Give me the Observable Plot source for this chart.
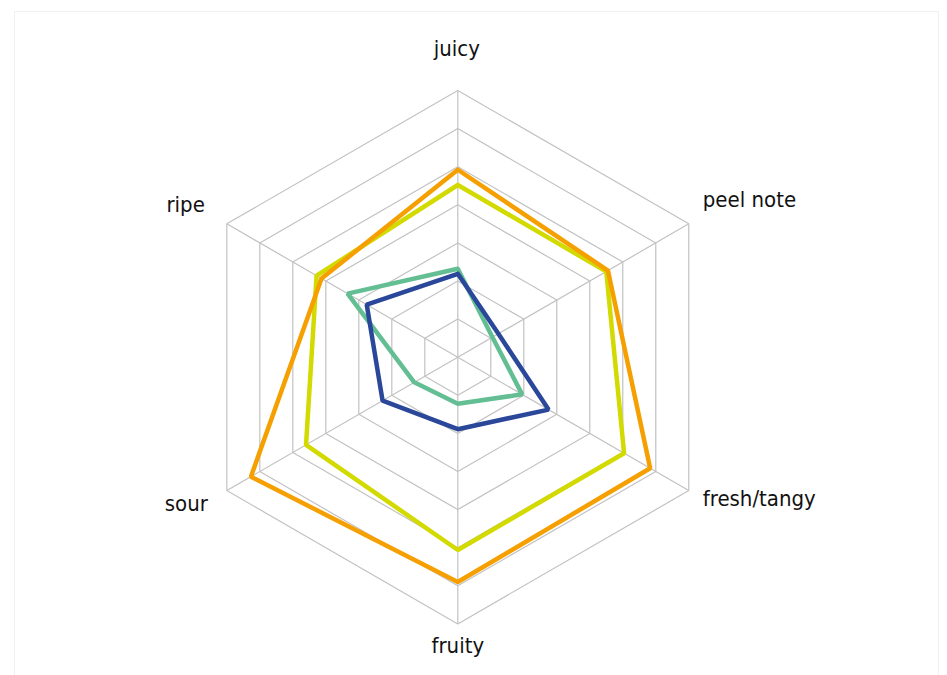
<!DOCTYPE html>
<html>
<head>
<meta charset="utf-8">
<script src="https://cdn.jsdelivr.net/npm/d3@7"></script>
<script src="https://cdn.jsdelivr.net/npm/@observablehq/plot@0.6"></script>
<style>
  html, body { margin: 0; padding: 0; background: #fff; }
  #wrap { position: relative; width: 947px; height: 675px; overflow: hidden; }
  #frame { position: absolute; left: 14px; top: 11px; width: 925px; height: 700px; border: 1px solid #f1f1f1; box-sizing: border-box; }
  #chart { position: absolute; left: 0; top: 0; }
</style>
</head>
<body>
<div id="wrap"><div id="frame"></div><div id="chart"></div></div>
<script>
// Axes (clockwise from top)
const axes = ["juicy", "peel note", "fresh/tangy", "fruity", "sour", "ripe"];
// Grid levels
const levels = [1, 2, 3, 4, 5, 6, 7];
// Series values (same order as axes)
const seriesNames = ["Sample A", "Sample B", "Sample C", "Sample D"];
const sampleA = [2.32, 1.05, 1.95, 1.22, 1.32, 3.34];
const sampleB = [2.19, 1.23, 2.75, 1.89, 2.28, 2.76];
const sampleC = [4.52, 4.50, 5.04, 5.06, 4.60, 4.28];
const sampleD = [4.92, 4.55, 5.83, 5.90, 6.27, 4.13];
const seriesColors = ["#63bf93", "#2a4799", "#d2da00", "#f5a000"];

const allValues = [sampleA, sampleB, sampleC, sampleD];
const maxLevel = d3.max(levels);
const angle = i => (i * 2 * Math.PI) / axes.length;

// Build closed polygons
const seriesPts = [];
seriesNames.forEach((name, s) => {
  const vals = allValues[s];
  [...axes.keys(), 0].forEach(i => {
    seriesPts.push({series: name, x: vals[i] * Math.sin(angle(i)), y: vals[i] * Math.cos(angle(i))});
  });
});
const ringPts = [];
levels.forEach(l => {
  [...axes.keys(), 0].forEach(i => {
    ringPts.push({level: l, x: l * Math.sin(angle(i)), y: l * Math.cos(angle(i))});
  });
});
const spokes = axes.map((a, i) => ({x2: maxLevel * Math.sin(angle(i)), y2: maxLevel * Math.cos(angle(i))}));
const labelPts = axes.map((a, i) => ({label: a, x: maxLevel * Math.sin(angle(i)), y: maxLevel * Math.cos(angle(i))}));

// Label layout (anchor, pixel offsets from outer vertex)
const labelLayout = {
  "juicy":       {anchor: "middle", dx: -1,  dy: -35},
  "peel note":   {anchor: "start",  dx: 14,  dy: -17},
  "fresh/tangy": {anchor: "start",  dx: 14,  dy: 15},
  "fruity":      {anchor: "middle", dx: 0,   dy: 29},
  "sour":        {anchor: "end",    dx: -19, dy: 20},
  "ripe":        {anchor: "end",    dx: -22, dy: -12}
};

const W = 947, H = 675;
const cx = 457.3, cy = 356.7, unit = 266.7 / maxLevel;

const labelMarks = labelPts.map(d => Plot.text([d], {
  x: "x", y: "y", text: "label",
  textAnchor: labelLayout[d.label].anchor,
  lineAnchor: "bottom",
  dx: labelLayout[d.label].dx, dy: labelLayout[d.label].dy,
  fill: "#111",
  fontSize: 22,
  fontFamily: "'DejaVu Sans Condensed', sans-serif"
}));

const chart = Plot.plot({
  width: W, height: H,
  margin: 0,
  x: {domain: [-cx / unit, (W - cx) / unit], axis: null},
  y: {domain: [-(H - cy) / unit, cy / unit], axis: null},
  color: {domain: seriesNames, range: seriesColors},
  style: {background: "transparent", overflow: "visible"},
  marks: [
    Plot.line(ringPts, {x: "x", y: "y", z: "level", stroke: "#c2c2c2", strokeWidth: 1.2}),
    Plot.link(spokes, {x1: 0, y1: 0, x2: "x2", y2: "y2", stroke: "#c2c2c2", strokeWidth: 1.2}),
    Plot.line(seriesPts, {x: "x", y: "y", z: "series", stroke: "series", strokeWidth: 4.5, strokeLinejoin: "miter"}),
    ...labelMarks
  ]
});
document.getElementById("chart").appendChild(chart);
</script>
</body>
</html>
